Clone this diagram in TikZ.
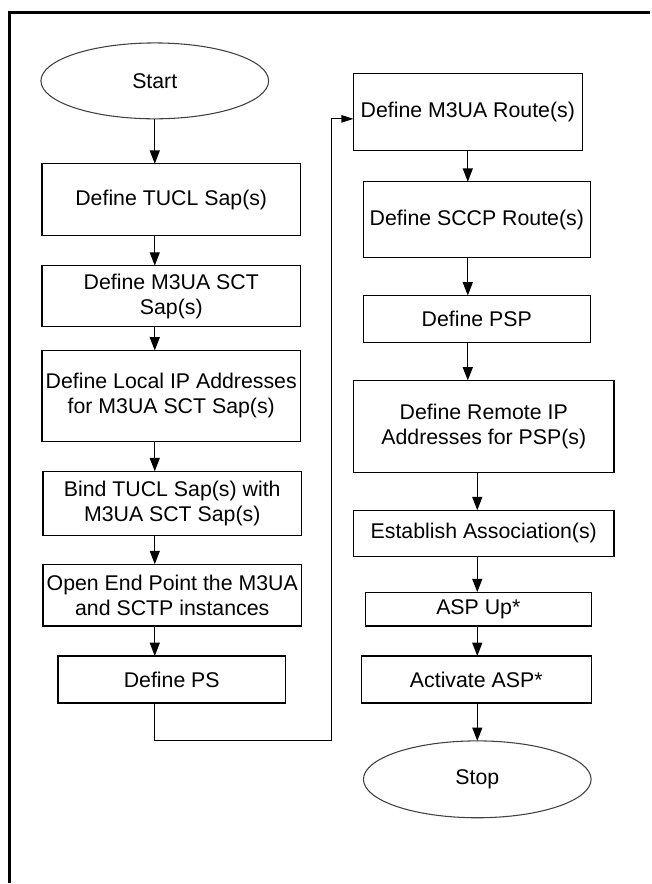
\documentclass[tikz,border=0pt]{standalone}
\usepackage{fontspec}
\setmainfont{Liberation Sans}
\usetikzlibrary{arrows.meta,shapes.geometric}

\begin{document}
\begin{tikzpicture}[x=0.75pt,y=-0.75pt,
  stepbox/.style={draw,line width=0.9pt,inner sep=0pt,outer sep=0pt,align=center,
    font=\fontsize{16}{18.75}\selectfont},
  terminal/.style={ellipse,draw=black!75,line width=0.8pt,inner sep=0pt,outer sep=0pt,
    font=\fontsize{16}{18.75}\selectfont,minimum width=171pt,minimum height=57pt},
  arr/.style={-{Triangle[length=10pt,width=7.5pt]},line width=0.9pt}]
\fill[white] (0,0) rectangle (651,884);
% frame, only top and left edges show
\draw[line width=2pt] (9.5,884) -- (9.5,12.5) -- (651,12.5);

% left column
\node[terminal] (start) at (155,81) {Start};
\node[stepbox,minimum width=194.25pt,minimum height=54pt] (tucl) at (171.5,200) {Define TUCL Sap(s)};
\node[stepbox,minimum width=194.25pt,minimum height=45.75pt] (sctsap) at (171.5,296.5) {Define M3UA SCT\\Sap(s)};
\node[stepbox,minimum width=194.25pt,minimum height=68.25pt] (localip) at (171.5,396.5) {Define Local IP Addresses\\for M3UA SCT Sap(s)};
\node[stepbox,minimum width=194.25pt,minimum height=48pt] (bind) at (172.5,504) {Bind TUCL Sap(s) with\\M3UA SCT Sap(s)};
\node[stepbox,minimum width=194.25pt,minimum height=46.5pt] (openep) at (172.5,596) {Open End Point the M3UA\\and SCTP instances};
\node[stepbox,minimum width=171pt,minimum height=35.25pt] (defps) at (172,680.5) {Define PS};

% right column
\node[stepbox,minimum width=171.75pt,minimum height=57.75pt] (m3uaroute) at (468.5,112.5) {Define M3UA Route(s)};
\node[stepbox,minimum width=170.25pt,minimum height=57pt] (sccproute) at (477.5,220) {Define SCCP Route(s)};
\node[stepbox,minimum width=170.25pt,minimum height=35.25pt] (psp) at (477.5,319.5) {Define PSP};
\node[stepbox,minimum width=195.75pt,minimum height=69pt] (remoteip) at (484.5,427) {Define Remote IP\\Addresses for PSP(s)};
\node[stepbox,minimum width=195.75pt,minimum height=34.5pt] (assoc) at (484.5,534) {Establish Association(s)};
\node[stepbox,minimum width=169.5pt,minimum height=25.5pt] (aspup) at (479,610) {ASP Up*};
\node[stepbox,minimum width=172.5pt,minimum height=35.25pt] (activate) at (477,680.5) {Activate ASP*};
\node[terminal,minimum height=57.75pt] (stop) at (478,780.5) {Stop};

% connectors
\draw[arr] (start.south) -- (start.south |- tucl.north);
\draw[arr] (tucl.south -| start) -- (sctsap.north -| start);
\draw[arr] (sctsap.south -| start) -- (localip.north -| start);
\draw[arr] (localip.south -| start) -- (bind.north -| start);
\draw[arr] (bind.south -| start) -- (openep.north -| start);
\draw[arr] (openep.south -| start) -- (defps.north -| start);

\coordinate (turn) at (332,742);
\draw[-{Triangle[length=9pt,width=5.5pt]},line width=0.9pt] (defps.south -| start) |- (turn) |- ([yshift=-4.9pt]m3uaroute.west);

\draw[arr] (m3uaroute.south) -- (m3uaroute.south |- sccproute.north);
\draw[arr] (sccproute.south -| m3uaroute) -- (psp.north -| m3uaroute);
\draw[arr] (psp.south -| m3uaroute) -- (remoteip.north -| m3uaroute);
\draw[arr] (remoteip.south -| stop) -- (assoc.north -| stop);
\draw[arr] (assoc.south -| stop) -- (aspup.north -| stop);
\draw[arr] (aspup.south -| stop) -- (activate.north -| stop);
\draw[arr] (activate.south -| stop) -- (stop.north);
\end{tikzpicture}
\end{document}
